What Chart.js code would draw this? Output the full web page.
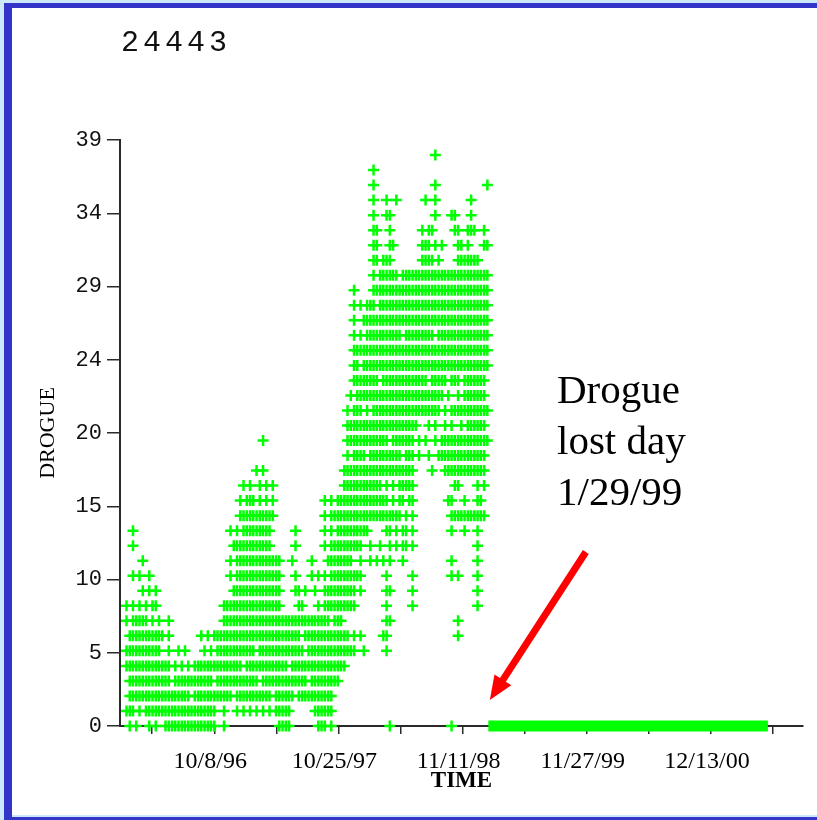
<!DOCTYPE html>
<html>
<head>
<meta charset="utf-8">
<title>24443 drogue</title>
<script src="https://cdn.jsdelivr.net/npm/chart.js@4.4.1/dist/chart.umd.min.js"></script>
<style>
    html, body { margin: 0; padding: 0; background: #cce8fa; overflow: hidden; }
    #wrap { position: absolute; left: 0; top: 0; width: 817px; height: 820px; }
</style>
</head>
<body>
<div id="wrap"><canvas id="drogueChart" width="817" height="820"></canvas></div>
<script>
// buoy id printed above the plot
const buoyId = '24443';

// time axis, in days counted from 10/8/96
const xTickDays = [-191, 0, 191, 382, 573, 764, 955, 1146, 1337, 1528, 1719];
const xLabelDays = [0, 382, 764, 1146, 1528];
const xTickLabels = ['10/8/96', '10/25/97', '11/11/98', '11/27/99', '12/13/00'];

// drogue axis: 8 equal steps up to 39, labels rounded like the original plot
const yTickValues = [0, 4.875, 9.75, 14.625, 19.5, 24.375, 29.25, 34.125, 39];
const yTickLabels = ['0', '5', '10', '15', '20', '24', '29', '34', '39'];

// readings while the drogue was on: one string per drogue value (index = value),
// one character per 10-day bin starting at day -270, '#' = reading seen in that bin
const firstBinDay = -270;
const binDays = 10;
const readingRows = [
    ".#.#...#.# ..######## ########.. #......... .......### #........# ##.#...... .......... .#........ .......... #.........",
    "###.#.#### ########## ########.. #...#.#.#. #.#.#.#### #.......## ####......",
    ".######### ########## .######### ###.###### #####.#### ##.####### ####......",
    ".######### ####.##### #######.## ########## #.######## ######.### ######....",
    "########## ####.#.#.# .######### ######.### ########## .######### ########..",
    "########## #..#..#.#. ....#.#.## ########## .######### #####.#### ########## #..#...... #.........",
    ".######### ##.#...... ...#.#.### ########## ########## ####.##### #########. #.#......# #......... .......... ..#.......",
    "#.#####.#. #..#...... .......... ########## ########## ########## ###.###... .......... ##........ .......... ..#.......",
    "#.#.#.#.## .......... .......... ########## ########.. ...##....# .######### #......... #.......#. .......... ........#.",
    ".....#.#.# .......... .......... ...####### ########.. ..##.#..#. .######### #.#....... ##......#. .......... ........#.",
    "..#.#..#.. .......... .......... ..#.###### ########.. ..#....#.# .#.####### ###....... #.......#. .......... #.#.....#.",
    ".....#.... .......... .......... ..#.###### ########.. .#.....#.. ..######## ..#..#.#.# .#...#.... .......... #.......#.",
    "..#....... .......... .......... ...####### #####..... ..#....... .#.####### ###..#..#. .#.#.##.#. .......... ........#.",
    "..#....... .......... .......... ..#.#.#### #####..... ..#....... .#.#.##### #####..... ##.#.##.#. .......... #...#...#.",
    ".......... .......... .......... .....##### ######.... .......... .#.####### ########## #####.#.#. .......... ########## #.........",
    ".......... .......... .......... .....#.### .#.#.#.... .......... .#.#.##### ########## #.#.##.##. .........# #...#...##",
    ".......... .......... .......... ......#.#. .#.#.#.... .......... .......### #########. #.#.#####. .......... .##.....#. #.........",
    ".......... .......... .......... .......... #.#....... .......... .......### ########## #########. ....#...## ########## #.........",
    ".......... .......... .......... .......... .......... .......... ........#. ####.##### #####.###. #..#..#### ########## #.........",
    ".......... .......... .......... .......... ..#....... .......... ........## ########## #.#######. #.#..#.### ########## ##........",
    ".......... .......... .......... .......... .......... .......... ........## ########## ########## ...#.#..#. #..#.##### #.........",
    ".......... .......... .......... .......... .......... .......... ........#. ###.#.#### ########## #######.#. ########## ##........",
    ".......... .......... .......... .......... .......... .......... .........# .######### ########## ########.# ..#.###### #.........",
    ".......... .......... .......... .......... .......... .......... .......... ########.# ########## ###.#####. ###.###### #.........",
    ".......... .......... .......... .......... .......... .......... .......... ##.####### ########## ########## ########## ##........",
    ".......... .......... .......... .......... .......... .......... .......... ########## ########## ########## ########## ##........",
    ".......... .......... .......... .......... .......... .......... .......... #.#.###### #####.#### #####.#### ########## ##........",
    ".......... .......... .......... .......... .......... .......... .......... #..####### ########## ########## ########## ##........",
    ".......... .......... .......... .......... .......... .......... .......... #.#.###.## ########## ########## ########## ##........",
    ".......... .......... .......... .......... .......... .......... .......... #.....#### ########## ########## ########## ##........",
    ".......... .......... .......... .......... .......... .......... .......... ......#.## ####.##### ########## ########## ##........",
    ".......... .......... .......... .......... .......... .......... .......... ......##.# ##........ .####.#... ..#######.",
    ".......... .......... .......... .......... .......... .......... .......... ......##.. .##....... .###.#.#.. ..##.#.... ##........",
    ".......... .......... .......... .......... .......... .......... .......... ......##.. .#........ .#.##..... .##..###.. #.........",
    ".......... .......... .......... .......... .......... .......... .......... ......#... ##........ .....#.... ##....#...",
    ".......... .......... .......... .......... .......... .......... .......... ......#... #..#...... ..#..#.... ......#...",
    ".......... .......... .......... .......... .......... .......... .......... ......#... .......... .....#.... .......... .#........",
    ".......... .......... .......... .......... .......... .......... .......... ......#...",
    ".......... .......... .......... .......... .......... .......... .......... .......... .......... .....#...."
];

// after the drogue was lost (1/29/99) every reading is zero
const lostDays = [843, 1703];
const lostValues = [0, 0];

const noteLines = ['Drogue', 'lost day', '1/29/99'];

const lime = '#00ff00';
const axisColor = '#2a2a2a';

document.addEventListener('DOMContentLoaded', function() {
    initDrogueChart();
});

/**
 * Turn the bin strings into scatter points
 */
function buildReadings() {
    const points = [];
    readingRows.forEach((row, value) => {
        const bins = row.replace(/ /g, '');
        for (let i = 0; i < bins.length; i++) {
            if (bins[i] === '#') {
                points.push({ x: firstBinDay + i * binDays, y: value });
            }
        }
    });
    return points;
}

/**
 * Slide frame, buoy id, note and red arrow
 */
const slidePlugin = {
    id: 'slide',
    beforeDraw(chart) {
        const ctx = chart.ctx;
        ctx.save();
        ctx.fillStyle = '#cce8fa';
        ctx.fillRect(0, 0, 817, 820);
        ctx.fillStyle = '#3434c8';
        ctx.fillRect(4, 3, 813, 5);
        ctx.fillRect(4, 3, 8, 817);
        ctx.fillRect(4, 817, 813, 3);
        ctx.fillStyle = '#ffffff';
        ctx.fillRect(12, 8, 805, 807);
        ctx.restore();
    },
    afterDraw(chart) {
        const ctx = chart.ctx;
        const x = chart.scales.x;
        const y = chart.scales.y;
        ctx.save();

        // buoy id
        ctx.fillStyle = '#111';
        ctx.font = '30px "Liberation Mono"';
        ctx.letterSpacing = '4px';
        ctx.textAlign = 'left';
        ctx.textBaseline = 'alphabetic';
        ctx.fillText(buoyId, 121, 51);
        ctx.letterSpacing = '0px';

        // note
        ctx.fillStyle = '#000';
        ctx.font = '41px "Liberation Serif"';
        noteLines.forEach((line, i) => {
            ctx.fillText(line, 557, 403 + i * 51);
        });

        // arrow pointing at the day the drogue was lost
        const tipX = x.getPixelForValue(lostDays[0]) + 1.5;
        const tipY = y.getPixelForValue(0) - 26;
        const tailX = tipX + 96;
        const tailY = tipY - 148;
        const len = Math.hypot(tipX - tailX, tipY - tailY);
        const ux = (tipX - tailX) / len;
        const uy = (tipY - tailY) / len;
        const baseX = tipX - ux * 24;
        const baseY = tipY - uy * 24;
        ctx.strokeStyle = '#ff0000';
        ctx.fillStyle = '#ff0000';
        ctx.lineWidth = 7;
        ctx.beginPath();
        ctx.moveTo(tailX, tailY);
        ctx.lineTo(baseX + ux * 2, baseY + uy * 2);
        ctx.stroke();
        ctx.beginPath();
        ctx.moveTo(tipX, tipY);
        ctx.lineTo(baseX - uy * 10, baseY + ux * 10);
        ctx.lineTo(baseX + uy * 10, baseY - ux * 10);
        ctx.closePath();
        ctx.fill();

        ctx.restore();
    }
};

/**
 * Build the drogue scatter chart
 */
function initDrogueChart() {
    const canvas = document.getElementById('drogueChart');
    const readings = buildReadings();
    const lostPoints = lostDays.map((day, i) => ({ x: day, y: lostValues[i] }));

    new Chart(canvas, {
        type: 'scatter',
        data: {
            datasets: [{
                label: 'Drogue',
                data: readings,
                pointStyle: 'cross',
                pointRadius: 5.5,
                pointBorderWidth: 2.5,
                pointBorderColor: lime,
                pointBackgroundColor: lime,
                clip: false
            }, {
                type: 'line',
                label: 'Drogue lost',
                data: lostPoints,
                showLine: true,
                borderColor: lime,
                borderWidth: 11,
                borderCapStyle: 'butt',
                pointRadius: 0,
                clip: false
            }]
        },
        options: {
            responsive: false,
            animation: false,
            layout: {
                padding: { left: 0, right: 14, top: 140, bottom: 0 }
            },
            plugins: {
                legend: { display: false },
                tooltip: { enabled: false }
            },
            scales: {
                x: {
                    type: 'linear',
                    min: -290,
                    max: 1811,
                    afterBuildTicks: scale => {
                        scale.ticks = xTickDays.map(v => ({ value: v }));
                    },
                    afterFit: scale => {
                        scale.height = 94;
                    },
                    grid: {
                        drawOnChartArea: false,
                        drawTicks: true,
                        tickLength: 8,
                        color: axisColor,
                        lineWidth: 1.5
                    },
                    border: { display: true, color: axisColor, width: 2 },
                    ticks: {
                        autoSkip: false,
                        maxRotation: 0,
                        padding: 13,
                        labelOffset: -4,
                        color: '#000',
                        font: { family: 'Liberation Serif', size: 24 },
                        callback: value => {
                            const i = xLabelDays.indexOf(value);
                            return i >= 0 ? xTickLabels[i] : '';
                        }
                    },
                    title: {
                        display: true,
                        text: 'TIME',
                        color: '#000',
                        font: { family: 'Liberation Serif', size: 23, weight: 'bold' },
                        padding: { top: 0, bottom: 25 }
                    }
                },
                y: {
                    type: 'linear',
                    min: 0,
                    max: 39,
                    afterBuildTicks: scale => {
                        scale.ticks = yTickValues.map(v => ({ value: v }));
                    },
                    afterFit: scale => {
                        scale.width = 120;
                    },
                    grid: {
                        drawOnChartArea: false,
                        drawTicks: true,
                        tickLength: 13,
                        color: axisColor,
                        lineWidth: 1.5
                    },
                    border: { display: true, color: axisColor, width: 2 },
                    ticks: {
                        padding: 5,
                        color: '#111',
                        font: { family: 'Liberation Mono', size: 22 },
                        callback: (value, index) => yTickLabels[index]
                    },
                    title: {
                        display: true,
                        text: 'DROGUE',
                        color: '#000',
                        font: { family: 'Liberation Serif', size: 22 },
                        padding: { top: 35, bottom: 0 }
                    }
                }
            }
        },
        plugins: [slidePlugin]
    });
}
</script>
</body>
</html>
